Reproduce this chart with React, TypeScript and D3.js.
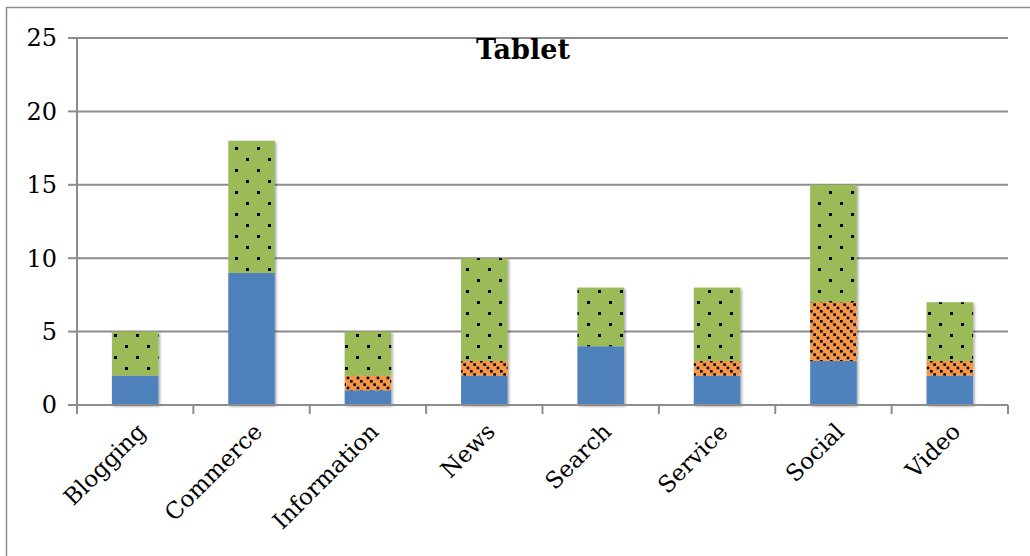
import React from 'react';
import * as d3 from 'd3';

const categories = ['Blogging', 'Commerce', 'Information', 'News', 'Search', 'Service', 'Social', 'Video'];
const seriesBlue = [2, 9, 1, 2, 4, 2, 3, 2];
const seriesOrange = [0, 0, 1, 1, 0, 1, 4, 1];
const seriesGreen = [3, 9, 3, 7, 4, 5, 8, 4];
const yTicks = [0, 5, 10, 15, 20, 25];

const width = 1030;
const height = 556;
const margin = { left: 77, right: 22, top: 38, bottom: 151 };
const font = '"DejaVu Serif", serif';

export default function App() {
  const x = d3.scaleBand<string>()
    .domain(categories)
    .range([margin.left, width - margin.right])
    .paddingInner(0.6)
    .paddingOuter(0.3);
  const xOuter = d3.scaleBand<string>()
    .domain(categories)
    .range([margin.left, width - margin.right]);
  const y = d3.scaleLinear().domain([0, 25]).range([height - margin.bottom, margin.top]);

  const rows = categories.map((c, i) => ({ c, blue: seriesBlue[i], orange: seriesOrange[i], green: seriesGreen[i] }));
  const stack = d3.stack<any>().keys(['blue', 'orange', 'green'])(rows);
  const fills: Record<string, string> = { blue: '#4F81BD', orange: 'url(#diag)', green: 'url(#dots)' };

  const x0 = margin.left;
  const x1 = width - margin.right;
  const yb = y(0);

  return (
    <svg width={width} height={height} style={{ position: 'absolute', left: 0, top: 0, background: '#fff' }}>
      <defs>
        <pattern id="dots" width={22} height={22} patternUnits="userSpaceOnUse">
          <rect width={22} height={22} fill="#9BBB59" />
          <rect x={4} y={4} width={3} height={3} fill="#000" />
          <rect x={15} y={15} width={3} height={3} fill="#000" />
        </pattern>
        <pattern id="diag" width={10} height={10} patternUnits="userSpaceOnUse">
          <rect width={10} height={10} fill="#F79646" />
          <rect x={0} y={0} width={2.6} height={2.6} fill="#000" />
          <rect x={3.33} y={3.33} width={2.6} height={2.6} fill="#000" />
          <rect x={6.67} y={6.67} width={2.6} height={2.6} fill="#000" />
        </pattern>
        <filter id="shadow" x="-20%" y="-5%" width="140%" height="110%">
          <feDropShadow dx={1.5} dy={1.5} stdDeviation={1.2} floodColor="#000" floodOpacity={0.35} />
        </filter>
      </defs>
      <rect x={6.5} y={7.5} width={1040} height={560} fill="none" stroke="#8c8c8c" strokeWidth={1.5} />

      {yTicks.map(t => (
        <g key={t}>
          {t > 0 && <line x1={x0} x2={x1} y1={y(t)} y2={y(t)} stroke="#8c8c8c" strokeWidth={2} />}
          <line x1={x0 - 9} x2={x0} y1={y(t)} y2={y(t)} stroke="#8c8c8c" strokeWidth={2} />
          <text x={x0 - 20} y={y(t)} dy="0.35em" textAnchor="end" fontFamily={font} fontSize={24} fill="#000">{t}</text>
        </g>
      ))}

      <g filter="url(#shadow)">
        {stack.map(s => s.map((d, i) => (
          d[1] > d[0] ? (
            <rect key={s.key + i} x={x(categories[i])} width={x.bandwidth()} y={y(d[1])} height={y(d[0]) - y(d[1])} fill={fills[s.key]} />
          ) : null
        )))}
      </g>

      <line x1={x0} x2={x0} y1={y(25)} y2={yb} stroke="#8c8c8c" strokeWidth={2} />
      <line x1={x0} x2={x1} y1={yb} y2={yb} stroke="#8c8c8c" strokeWidth={2} />
      {categories.map(c => (
        <line key={c} x1={(xOuter(c) as number) + xOuter.bandwidth()} x2={(xOuter(c) as number) + xOuter.bandwidth()} y1={yb} y2={yb + 9} stroke="#8c8c8c" strokeWidth={2} />
      ))}
      <line x1={x0} x2={x0} y1={yb} y2={yb + 9} stroke="#8c8c8c" strokeWidth={2} />

      {categories.map(c => {
        const cx = (xOuter(c) as number) + xOuter.bandwidth() / 2 + 12;
        const cy = yb + 28;
        return (
          <text key={c} transform={`translate(${cx},${cy}) rotate(-45)`} textAnchor="end" fontFamily={font} fontSize={23} fill="#000">{c}</text>
        );
      })}

      <text x={523} y={50} dy="0.35em" textAnchor="middle" fontFamily={font} fontWeight="bold" fontSize={27} fill="#000">Tablet</text>
    </svg>
  );
}
